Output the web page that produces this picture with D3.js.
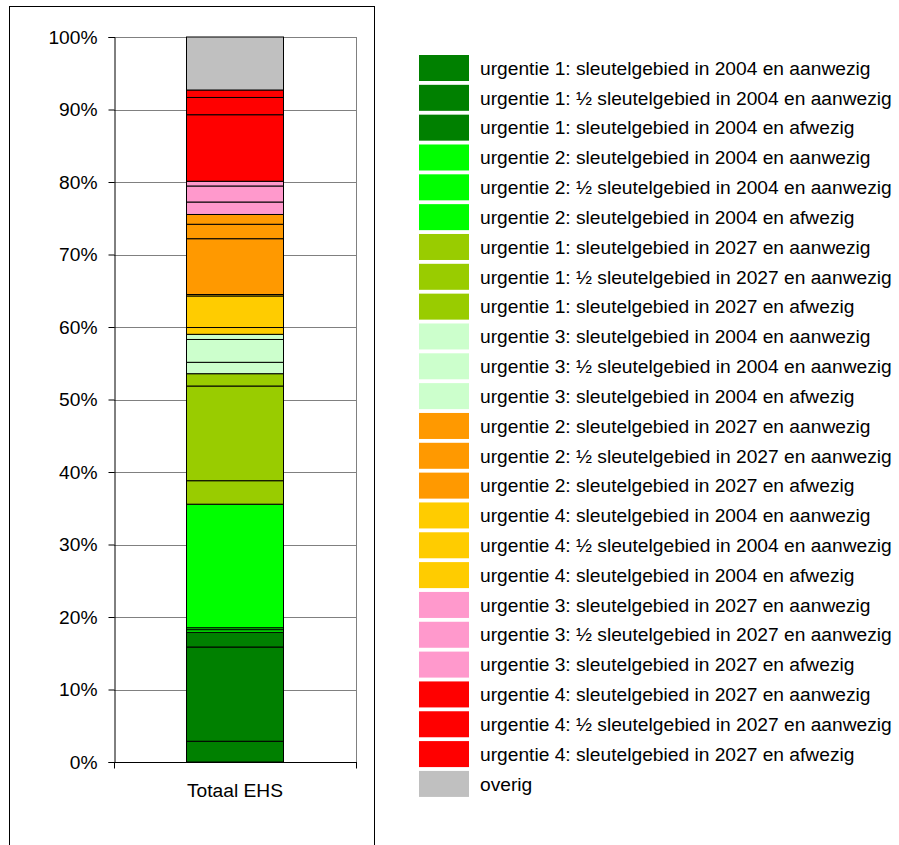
<!DOCTYPE html>
<html>
<head>
<meta charset="utf-8">
<script src="https://cdn.jsdelivr.net/npm/d3@7/dist/d3.min.js"></script>
<style>
  html, body { margin: 0; padding: 0; background: #fff; }
  svg { display: block; }
  text { font-family: "Liberation Sans", Arial, sans-serif; fill: #000; }
</style>
</head>
<body>
<svg id="chart" width="899" height="845"></svg>
<script>
// Category on the x axis
const categories = ["Totaal EHS"];

// Series labels, in legend order
const seriesNames = [
  "urgentie 1: sleutelgebied in 2004 en aanwezig",
  "urgentie 1: ½ sleutelgebied in 2004 en aanwezig",
  "urgentie 1: sleutelgebied in 2004 en afwezig",
  "urgentie 2: sleutelgebied in 2004 en aanwezig",
  "urgentie 2: ½ sleutelgebied in 2004 en aanwezig",
  "urgentie 2: sleutelgebied in 2004 en afwezig",
  "urgentie 1: sleutelgebied in 2027 en aanwezig",
  "urgentie 1: ½ sleutelgebied in 2027 en aanwezig",
  "urgentie 1: sleutelgebied in 2027 en afwezig",
  "urgentie 3: sleutelgebied in 2004 en aanwezig",
  "urgentie 3: ½ sleutelgebied in 2004 en aanwezig",
  "urgentie 3: sleutelgebied in 2004 en afwezig",
  "urgentie 2: sleutelgebied in 2027 en aanwezig",
  "urgentie 2: ½ sleutelgebied in 2027 en aanwezig",
  "urgentie 2: sleutelgebied in 2027 en afwezig",
  "urgentie 4: sleutelgebied in 2004 en aanwezig",
  "urgentie 4: ½ sleutelgebied in 2004 en aanwezig",
  "urgentie 4: sleutelgebied in 2004 en afwezig",
  "urgentie 3: sleutelgebied in 2027 en aanwezig",
  "urgentie 3: ½ sleutelgebied in 2027 en aanwezig",
  "urgentie 3: sleutelgebied in 2027 en afwezig",
  "urgentie 4: sleutelgebied in 2027 en aanwezig",
  "urgentie 4: ½ sleutelgebied in 2027 en aanwezig",
  "urgentie 4: sleutelgebied in 2027 en afwezig",
  "overig"
];

// Share of the total area (%), one value per series, legend order
const seriesValues = [
  2.86, 13.00, 2.03,
  0.36, 0.27, 17.04,
  3.24, 13.06, 1.70,
  1.57, 3.15, 0.71,
  7.70, 1.99, 1.35,
  0.94, 4.35, 0.20,
  1.72, 2.21, 0.65,
  9.18, 2.38, 1.03,
  7.31
];

// Fill colours, legend order
const seriesColors = [
  "#008000", "#008000", "#008000",
  "#00FF00", "#00FF00", "#00FF00",
  "#99CC00", "#99CC00", "#99CC00",
  "#CCFFCC", "#CCFFCC", "#CCFFCC",
  "#FF9900", "#FF9900", "#FF9900",
  "#FFCC00", "#FFCC00", "#FFCC00",
  "#FF99CC", "#FF99CC", "#FF99CC",
  "#FF0000", "#FF0000", "#FF0000",
  "#C0C0C0"
];

// Order in which the series are stacked, bottom to top (indices into the lists above)
const stackOrder = [0,1,2, 3,4,5, 6,7,8, 9,10,11, 15,16,17, 12,13,14, 18,19,20, 21,22,23, 24];

// Y axis tick labels
const yTicks = [0, 10, 20, 30, 40, 50, 60, 70, 80, 90, 100];

const svg = d3.select("#chart");
const font = 19.2;

// Outer chart frame
svg.append("rect")
  .attr("x", 9.5).attr("y", 6.5)
  .attr("width", 365).attr("height", 860)
  .attr("fill", "#fff").attr("stroke", "#000").attr("stroke-width", 1);

const plot = { left: 114, right: 356, top: 37, bottom: 762 };

const x = d3.scaleBand()
  .domain(categories)
  .range([plot.left, plot.right])
  .paddingInner(0.6)
  .paddingOuter(0.3);

const y = d3.scaleLinear()
  .domain([0, 100])
  .range([plot.bottom, plot.top]);

// Gridlines
svg.append("g")
  .selectAll("line")
  .data(yTicks.filter(d => d > 0))
  .join("line")
  .attr("x1", plot.left).attr("x2", plot.right)
  .attr("y1", d => Math.round(y(d)) + 0.5).attr("y2", d => Math.round(y(d)) + 0.5)
  .attr("stroke", "#808080").attr("stroke-width", 1);

// Plot area right edge
svg.append("line")
  .attr("x1", plot.right + 0.5).attr("x2", plot.right + 0.5)
  .attr("y1", plot.top).attr("y2", plot.bottom)
  .attr("stroke", "#808080");

// Stacked bar
const table = categories.map(c => {
  const r = { category: c };
  seriesNames.forEach((n, i) => { r["s" + i] = seriesValues[i]; });
  return r;
});
const stack = d3.stack().keys(stackOrder.map(i => "s" + i));
const layers = stack(table);

const bars = svg.append("g");
layers.forEach(layer => {
  const idx = +layer.key.slice(1);
  bars.selectAll(null)
    .data(layer)
    .join("rect")
    .attr("x", d => Math.floor(x(d.data.category)) + 0.5)
    .attr("width", Math.round(x.bandwidth()))
    .attr("y", d => y(d[1]))
    .attr("height", d => y(d[0]) - y(d[1]))
    .attr("fill", seriesColors[idx])
    .attr("stroke", "#000")
    .attr("stroke-width", 1);
});

// Y axis
const yAxis = d3.axisLeft(y)
  .tickValues(yTicks)
  .tickFormat(d => d + "%")
  .tickSize(6)
  .tickPadding(11);
const gy = svg.append("g")
  .attr("transform", `translate(${plot.left + 0.5},0)`)
  .call(yAxis);
gy.select(".domain").attr("stroke", "#000");
gy.selectAll(".tick line").attr("stroke", "#000");
gy.selectAll(".tick text")
  .attr("font-size", font)
  .attr("font-family", "Liberation Sans, Arial, sans-serif")
  .attr("fill", "#000");

// X axis
const gx = svg.append("g")
  .attr("transform", `translate(0,${plot.bottom + 0.5})`);
gx.append("line")
  .attr("x1", plot.left).attr("x2", plot.right + 1)
  .attr("stroke", "#000");
[plot.left, plot.right].forEach(px => {
  gx.append("line")
    .attr("x1", px + 0.5).attr("x2", px + 0.5)
    .attr("y1", 0).attr("y2", 6)
    .attr("stroke", "#000");
});
gx.selectAll("text")
  .data(categories)
  .join("text")
  .attr("x", d => x(d) + x.bandwidth() / 2)
  .attr("y", 34)
  .attr("text-anchor", "middle")
  .attr("font-size", font)
  .text(d => d);

// Legend
const legend = svg.append("g").attr("transform", "translate(419,55)");
const pitch = 29.83;
const items = legend.selectAll("g")
  .data(seriesNames)
  .join("g")
  .attr("transform", (d, i) => `translate(0,${i * pitch})`);
items.append("rect")
  .attr("width", 50).attr("height", 26)
  .attr("fill", (d, i) => seriesColors[i]);
items.append("text")
  .attr("x", 61).attr("y", 13)
  .attr("dy", "0.35em")
  .attr("font-size", font)
  .text(d => d);
</script>
</body>
</html>
